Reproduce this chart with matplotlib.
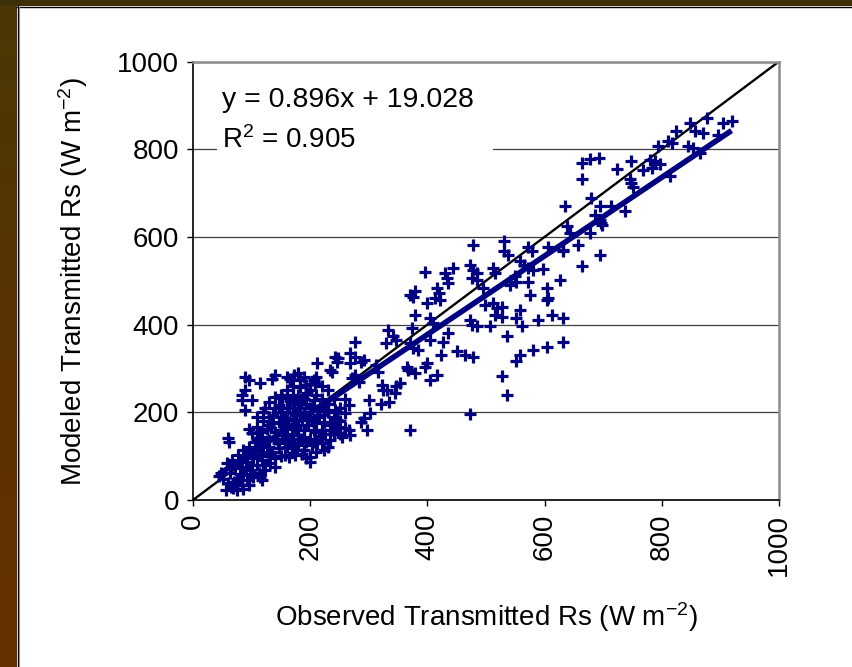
import matplotlib
matplotlib.use("Agg")
import matplotlib.pyplot as plt
import numpy as np
from matplotlib.patches import Rectangle
from matplotlib.lines import Line2D
from matplotlib.colors import LinearSegmentedColormap

plt.rcParams['font.family'] = ['Liberation Sans', 'DejaVu Sans']
plt.rcParams['mathtext.default'] = 'regular'

# low cluster (observed, modeled) W m-2
low_obs = [83, 100, 89, 123, 60, 62, 95, 109, 115, 100, 126, 135, 140, 117, 129, 106, 95, 86, 77, 66,
           58, 47, 45, 52, 60, 69, 57, 75, 83, 92, 103, 117, 112, 123, 132, 140, 135, 146, 126, 115,
           103, 92, 83, 72, 63, 75, 86, 97, 109, 117, 152, 163, 174, 186, 197, 209, 169, 180, 192, 203,
           157, 169, 174, 163, 186, 200, 209, 217, 146, 152, 174, 192, 203, 214, 223, 146, 137, 157, 129, 140,
           152, 180, 157, 140, 192]
low_mod = [228, 228, 205, 209, 141, 133, 163, 167, 156, 152, 163, 175, 156, 144, 137, 133, 122, 114, 103, 91,
           84, 61, 55, 49, 38, 27, 22, 22, 34, 46, 53, 46, 61, 68, 84, 95, 110, 118, 110, 103,
           95, 87, 76, 72, 61, 49, 57, 68, 80, 91, 201, 209, 194, 182, 171, 156, 163, 148, 133, 125,
           133, 118, 103, 99, 106, 87, 133, 141, 217, 232, 228, 220, 209, 194, 179, 179, 194, 186, 224, 236,
           148, 125, 103, 76, 95]

# densest part of the blob
blob_obs = [150, 160, 170, 180, 190, 200, 210, 220, 230, 200, 190, 180, 170, 160, 150, 140, 130, 120, 110, 120,
            130, 140, 150, 160, 170, 180, 190, 200, 210, 220, 230, 240, 250, 260, 250, 240, 230, 220, 210, 200,
            190, 180, 170, 130, 120, 110, 100, 110, 90, 80, 70, 80, 90, 100, 70, 80, 65, 75, 95, 85,
            100, 120, 130, 150, 160, 170, 190, 210, 220, 230, 250, 260, 235, 215, 195, 175,
            165, 185, 205, 225, 245, 155, 175, 195, 215, 235, 145, 165, 185, 205, 225]
blob_mod = [240, 250, 260, 240, 230, 250, 240, 230, 220, 210, 200, 210, 200, 210, 190, 210, 190, 180, 190, 200,
            170, 140, 160, 150, 140, 170, 160, 140, 175, 160, 200, 190, 210, 230, 180, 230, 250, 260, 280, 265,
            280, 290, 240, 120, 125, 140, 110, 120, 100, 90, 80, 60, 70, 60, 40, 45, 30, 35, 35, 25,
            80, 80, 100, 100, 120, 130, 115, 110, 130, 120, 150, 165, 160, 145, 185, 185,
            225, 225, 215, 205, 200, 175, 165, 170, 190, 170, 130, 140, 140, 180, 150]

cluster_obs = [212, 237, 268, 286, 277, 331, 300, 320, 334, 266, 260, 243, 291, 286, 297, 266, 254, 268, 248, 234,
               246, 223, 212, 160, 172, 206, 209, 183, 194, 160, 172, 206, 217, 183, 200, 160, 172, 206, 189, 166,
               212, 177, 200, 223, 234, 240, 89, 95, 115, 135, 140, 89, 83, 166, 183, 192, 246, 115]
cluster_mod = [312, 293, 312, 315, 285, 251, 228, 220, 224, 217, 198, 205, 186, 179, 160, 160, 144, 148, 167, 175,
               182, 194, 205, 281, 285, 274, 266, 258, 243, 236, 220, 228, 213, 198, 190, 182, 167, 160, 144, 137,
               129, 114, 99, 114, 137, 152, 281, 274, 266, 277, 285, 251, 239, 277, 274, 262, 315, 53]

mid_obs = [396, 430, 444, 433, 436, 473, 478, 484, 476, 484, 495, 512, 515, 379, 370, 376, 416, 419, 413, 421,
           399, 379, 373, 333, 342, 347, 330, 404, 410, 404, 427, 436, 370, 376, 384, 424, 450, 464, 478, 473,
           476, 484, 498, 399, 396, 416, 404, 365, 379, 367, 322, 325, 347, 353, 345, 302, 276, 268, 276, 291,
           248, 242, 234, 283, 271, 472, 370, 313, 316, 478]
mid_mod = [521, 518, 529, 506, 495, 537, 525, 518, 506, 502, 483, 529, 518, 476, 468, 464, 483, 472, 460, 457,
           449, 422, 392, 388, 373, 365, 358, 415, 403, 365, 361, 380, 358, 346, 342, 331, 339, 331, 327, 411,
           400, 396, 445, 312, 304, 285, 274, 304, 289, 297, 262, 251, 259, 266, 244, 198, 361, 335, 327, 320,
           324, 327, 297, 270, 278, 196, 160, 308, 293, 582]

high_obs = [530, 530, 538, 572, 578, 558, 564, 572, 581, 598, 549, 552, 572, 541, 606, 632, 638, 643, 657, 677,
            697, 695, 663, 626, 575, 604, 606, 604, 512, 518, 527, 515, 527, 507, 558, 552, 561, 589, 612, 632,
            535, 558, 552, 581, 604, 632, 527, 535,
            663, 677, 692, 663, 724, 747, 746, 748, 751, 780, 788, 797, 783, 768, 794, 811, 817, 825, 848, 857,
            871, 877, 845, 854, 865, 814, 905, 919, 896, 635, 680, 695, 714, 737, 686, 695, 698, 632]
high_mod = [590, 567, 559, 578, 567, 544, 537, 529, 525, 527, 510, 498, 498, 491, 578, 567, 624, 609, 582, 609,
            632, 559, 533, 502, 468, 483, 460, 457, 449, 438, 441, 422, 418, 396, 434, 415, 396, 411, 422, 415,
            373, 331, 316, 342, 350, 361, 282, 240,
            769, 778, 780, 731, 755, 774, 732, 723, 714, 776, 772, 767, 757, 753, 807, 818, 814, 841, 860, 841,
            837, 871, 807, 803, 792, 738, 860, 864, 833, 670, 689, 670, 670, 658, 651, 639, 628, 571]

obs = low_obs + blob_obs + cluster_obs + mid_obs + high_obs
mod = low_mod + blob_mod + cluster_mod + mid_mod + high_mod

slope = 0.896
intercept = 19.028
r2 = 0.905
ticks = [0, 200, 400, 600, 800, 1000]

navy = '#000080'

fig = plt.figure(figsize=(8.52, 6.67), dpi=100)
fig.patch.set_facecolor('white')

# slide border: top band + gradient band on the left
fig.add_artist(Rectangle((0, 1 - 6 / 667), 1, 6 / 667, transform=fig.transFigure,
                         facecolor='#3d2f06', edgecolor='none'))
fig.add_artist(Line2D([17 / 852, 1], [1 - 6.5 / 667] * 2, transform=fig.transFigure, color='black', lw=1))
gax = fig.add_axes([0, 0, 17 / 852, 1])
grad = LinearSegmentedColormap.from_list('band', ['#4a3806', '#5a3203', '#663100'])
gax.imshow(np.linspace(0, 1, 256).reshape(-1, 1), aspect='auto', cmap=grad)
gax.axis('off')
fig.add_artist(Line2D([17.5 / 852] * 2, [0, 1 - 6 / 667], transform=fig.transFigure, color='black', lw=1))
fig.add_artist(Line2D([18.6 / 852] * 2, [0, 1 - 7 / 667], transform=fig.transFigure, color='#909090', lw=0.8))

ax = fig.add_axes([193 / 852, 1 - 500 / 667, 586 / 852, 438.5 / 667])
ax.set_xlim(0, 1000)
ax.set_ylim(0, 1000)

ax.plot([0, 1000], [0, 1000], color='black', lw=1.7, zorder=2)
ax.plot(obs, mod, linestyle='none', marker='+', ms=9, mew=2.3, color=navy, zorder=3)
fx = np.array([min(obs), max(obs)])
ax.plot(fx, slope * fx + intercept, color=navy, lw=4, zorder=4, solid_capstyle='butt')

ax.set_xticks(ticks)
ax.set_yticks(ticks)
ax.set_xticklabels([str(t) for t in ticks], rotation=90)
ax.grid(axis='y', color='#404040', lw=0.9)
ax.set_axisbelow(True)
ax.tick_params(labelsize=20, length=4, width=1, direction='out', pad=6)

for s in ['left', 'bottom']:
    ax.spines[s].set_color('black')
    ax.spines[s].set_linewidth(1.2)
for s in ['top', 'right']:
    ax.spines[s].set_color('#8c8c8c')
    ax.spines[s].set_linewidth(1.8)

# white box behind the equation hides the 800 gridline
ax.add_patch(Rectangle((41, 770), 471, 60, facecolor='white', edgecolor='none', zorder=1.5))
ax.text(49, 912, 'y = %.3fx + %.3f' % (slope, intercept), fontsize=20.5, va='center', zorder=5)
ax.text(49, 821, 'R$^2$ = %.3f' % r2, fontsize=20, va='center', zorder=5)

fig.text(486 / 852, 1 - 617 / 667, 'Observed Transmitted Rs (W m$^{-2}$)', ha='center', va='center', fontsize=20)
fig.text(73 / 852, 1 - 281 / 667, 'Modeled Transmitted Rs (W m$^{-2}$)', ha='center', va='center',
         rotation=90, fontsize=20)

fig.savefig('out.png', dpi=100)
